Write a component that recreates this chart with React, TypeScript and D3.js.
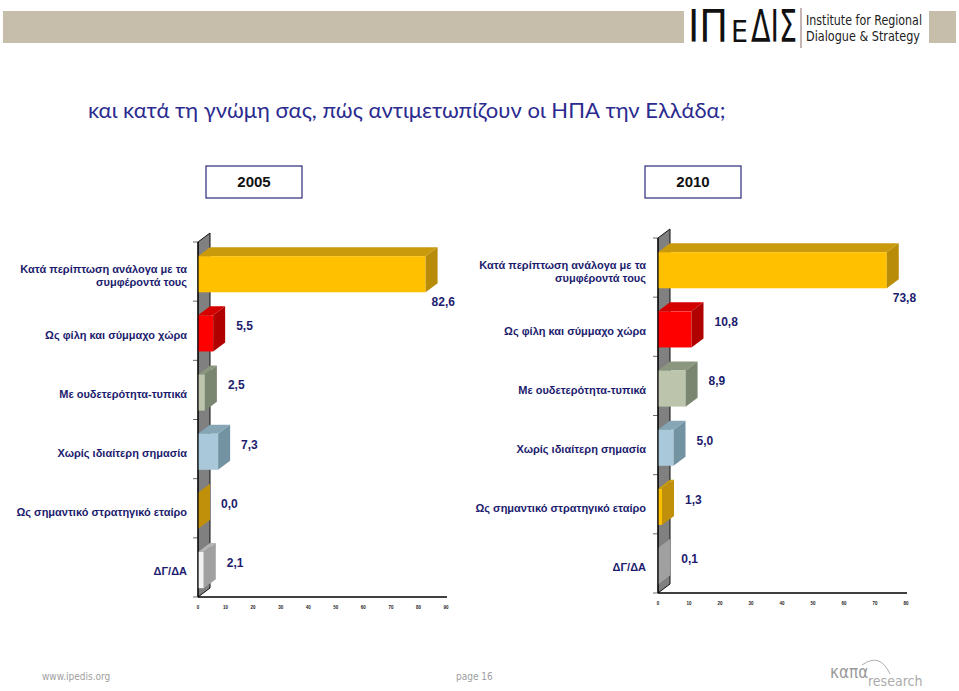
import React from 'react';
import * as d3 from 'd3';

// survey answers, top to bottom
const categories = [
  ['Κατά περίπτωση ανάλογα με τα', 'συμφέροντά τους'],
  ['Ως φίλη και σύμμαχο χώρα'],
  ['Με ουδετερότητα-τυπικά'],
  ['Χωρίς ιδιαίτερη σημασία'],
  ['Ως σημαντικό στρατηγικό εταίρο'],
  ['ΔΓ/ΔΑ'],
];
const values2005 = [82.6, 5.5, 2.5, 7.3, 0.0, 2.1];
const values2010 = [73.8, 10.8, 8.9, 5.0, 1.3, 0.1];
const ticks2005 = [0, 10, 20, 30, 40, 50, 60, 70, 80, 90];
const ticks2010 = [0, 10, 20, 30, 40, 50, 60, 70, 80];
const years = ['2005', '2010'];

// front / top / end face colours per category
const palette = [
  { front: '#ffc000', top: '#c99a0c', end: '#b88c08' },
  { front: '#ff0000', top: '#d40000', end: '#b00000' },
  { front: '#bcc4ac', top: '#8a967e', end: '#7a8670' },
  { front: '#a9c9da', top: '#86a6b6', end: '#7393a3' },
  { front: '#ffc000', top: '#c99a0c', end: '#c0900a' },
  { front: '#f2f2f2', top: '#b4b4b4', end: '#a0a0a0' },
];

const NAVY = '#1c1c6e';
const DX = 12;
const DY = 9;

const fmt = (v: number) => v.toFixed(1).replace('.', ',');

interface PanelProps {
  values: number[];
  ticks: number[];
  x0: number;
  x1: number;
  top: number;
  bottom: number;
  labelRight: number;
}

const Panel: React.FC<PanelProps> = ({ values, ticks, x0, x1, top, bottom, labelRight }) => {
  const x = d3.scaleLinear().domain([0, ticks[ticks.length - 1]]).range([x0, x1]);
  const y = d3.scaleBand<number>().domain(d3.range(values.length)).range([top, bottom]);
  const bw = y.bandwidth();

  const wall = [
    [x0, bottom], [x0, top], [x0 + DX, top - DY], [x0 + DX, bottom - DY],
  ].map(p => p.join(',')).join(' ');

  return (
    <g>
      {/* side wall */}
      <polygon points={wall} fill="#808080" stroke="#111" strokeWidth={1} />
      {/* category ticks */}
      {d3.range(values.length + 1).map(i => {
        const yy = top + i * bw;
        return <line key={i} x1={x0 - 5} x2={x0} y1={yy} y2={yy} stroke="#444" strokeWidth={0.8} />;
      })}
      {/* bars */}
      {values.map((v, i) => {
        const c = palette[i];
        const yt = (y(i) as number) + bw * 0.24;
        const h = bw * 0.61;
        const xe = x(v);
        const topFace = [[x0, yt], [xe, yt], [xe + DX, yt - DY], [x0 + DX, yt - DY]]
          .map(p => p.join(',')).join(' ');
        const endFace = [[xe, yt], [xe + DX, yt - DY], [xe + DX, yt + h - DY], [xe, yt + h]]
          .map(p => p.join(',')).join(' ');
        return (
          <g key={i}>
            <polygon points={topFace} fill={c.top} />
            <rect x={x0} y={yt} width={Math.max(0, xe - x0)} height={h} fill={c.front} />
            <polygon points={endFace} fill={c.end} />
          </g>
        );
      })}
      {/* floor / axis */}
      <line x1={x0} x2={x1 + 1} y1={bottom} y2={bottom} stroke="#000" strokeWidth={1.5} />
      <line x1={x0} x2={x0} y1={top} y2={bottom} stroke="#000" strokeWidth={1.2} />
      {ticks.map(t => (
        <text key={t} x={x(t)} y={bottom + 12} fontSize={4.5} fontWeight="bold" textAnchor="middle"
          fill="#222" fontFamily="Arial, 'Liberation Sans', sans-serif">{t}</text>
      ))}
      {/* value labels */}
      {values.map((v, i) => {
        const b = y(i) as number;
        const long = v > 50;
        const lx = long ? x(v) + 6 : x(v) + DX + 11;
        const ly = long ? b + bw + 1 : b + bw * 0.42;
        return (
          <text key={i} x={lx} y={ly} dy="0.35em" fontSize={12} fontWeight="bold" fill={NAVY}
            fontFamily="Arial, 'Liberation Sans', sans-serif">{fmt(v)}</text>
        );
      })}
      {/* category labels */}
      {categories.map((lines, i) => {
        const cy = (y(i) as number) + bw / 2 + 4 - (lines.length - 1) * 6.5;
        return (
          <text key={i} x={labelRight} y={cy} textAnchor="end" fontSize={11} fontWeight="bold" fill={NAVY}
            fontFamily="Arial, 'Liberation Sans', sans-serif">
            {lines.map((l, j) => (
              <tspan key={j} x={labelRight} y={cy + j * 13} dy="0.35em">{l}</tspan>
            ))}
          </text>
        );
      })}
    </g>
  );
};

const App: React.FC = () => {
  const sans = "Arial, 'Liberation Sans', sans-serif";
  const narrow = "'Liberation Sans Narrow', 'Arial Narrow', 'DejaVu Sans Condensed', sans-serif";
  return (
    <svg width={959} height={691} style={{ position: 'absolute', left: 0, top: 0, background: '#fff' }}>
      {/* header band */}
      <rect x={3} y={11} width={681} height={32} fill="#c6beab" />
      <rect x={929} y={11} width={27} height={32} fill="#c6beab" />
      <text x={688} y={42} fontSize={44} fontFamily={narrow} fill="#111" textLength={40}
        lengthAdjust="spacingAndGlyphs">ΙΠ</text>
      <text x={731} y={42} fontSize={30} fontFamily={narrow} fill="#111" textLength={17}
        lengthAdjust="spacingAndGlyphs">Ε</text>
      <text x={751} y={42} fontSize={44} fontFamily={narrow} fill="#111" textLength={46}
        lengthAdjust="spacingAndGlyphs">ΔΙΣ</text>
      <line x1={801} x2={801} y1={8} y2={48} stroke="#8a6a6a" strokeWidth={1} />
      <text x={806} y={25} fontSize={13.5} fontFamily={narrow} fill="#222" textLength={116}
        lengthAdjust="spacingAndGlyphs">Institute for Regional</text>
      <text x={806} y={41} fontSize={13.5} fontFamily={narrow} fill="#222" textLength={114}
        lengthAdjust="spacingAndGlyphs">Dialogue &amp; Strategy</text>

      {/* title */}
      <text x={88} y={118} fontSize={22} fill="#2b2b8f" fontFamily="Lato, 'Open Sans', sans-serif">
        και κατά τη γνώμη σας, πώς αντιμετωπίζουν οι ΗΠΑ την Ελλάδα;
      </text>

      {/* year boxes */}
      {years.map((yr, i) => {
        const bx = i === 0 ? 206 : 645;
        return (
          <g key={yr}>
            <rect x={bx} y={166} width={96} height={32} fill="#fff" stroke="#2a2a7a" strokeWidth={1.2} />
            <text x={bx + 48} y={182} dy="0.35em" textAnchor="middle" fontSize={15} fontWeight="bold"
              fill="#111" fontFamily={sans}>{yr}</text>
          </g>
        );
      })}

      <Panel values={values2005} ticks={ticks2005} x0={198} x1={446} top={242} bottom={597} labelRight={187} />
      <Panel values={values2010} ticks={ticks2010} x0={658} x1={906} top={238} bottom={593} labelRight={646} />

      {/* footer */}
      <text x={42} y={680} fontSize={10} fill="#a0a0a0" fontFamily={narrow}>www.ipedis.org</text>
      <text x={456} y={680} fontSize={10} fill="#a0a0a0" fontFamily={narrow}>page 16</text>
      <path d="M 862 665 Q 880 652 890 674" fill="none" stroke="#b0b0b0" strokeWidth={1} />
      <text x={830} y={678} fontSize={17} fill="#9a9a9a" fontFamily={narrow}>καπα</text>
      <text x={868} y={686} fontSize={14} fill="#ababab" fontFamily={narrow}>research</text>
    </svg>
  );
};

export default App;
